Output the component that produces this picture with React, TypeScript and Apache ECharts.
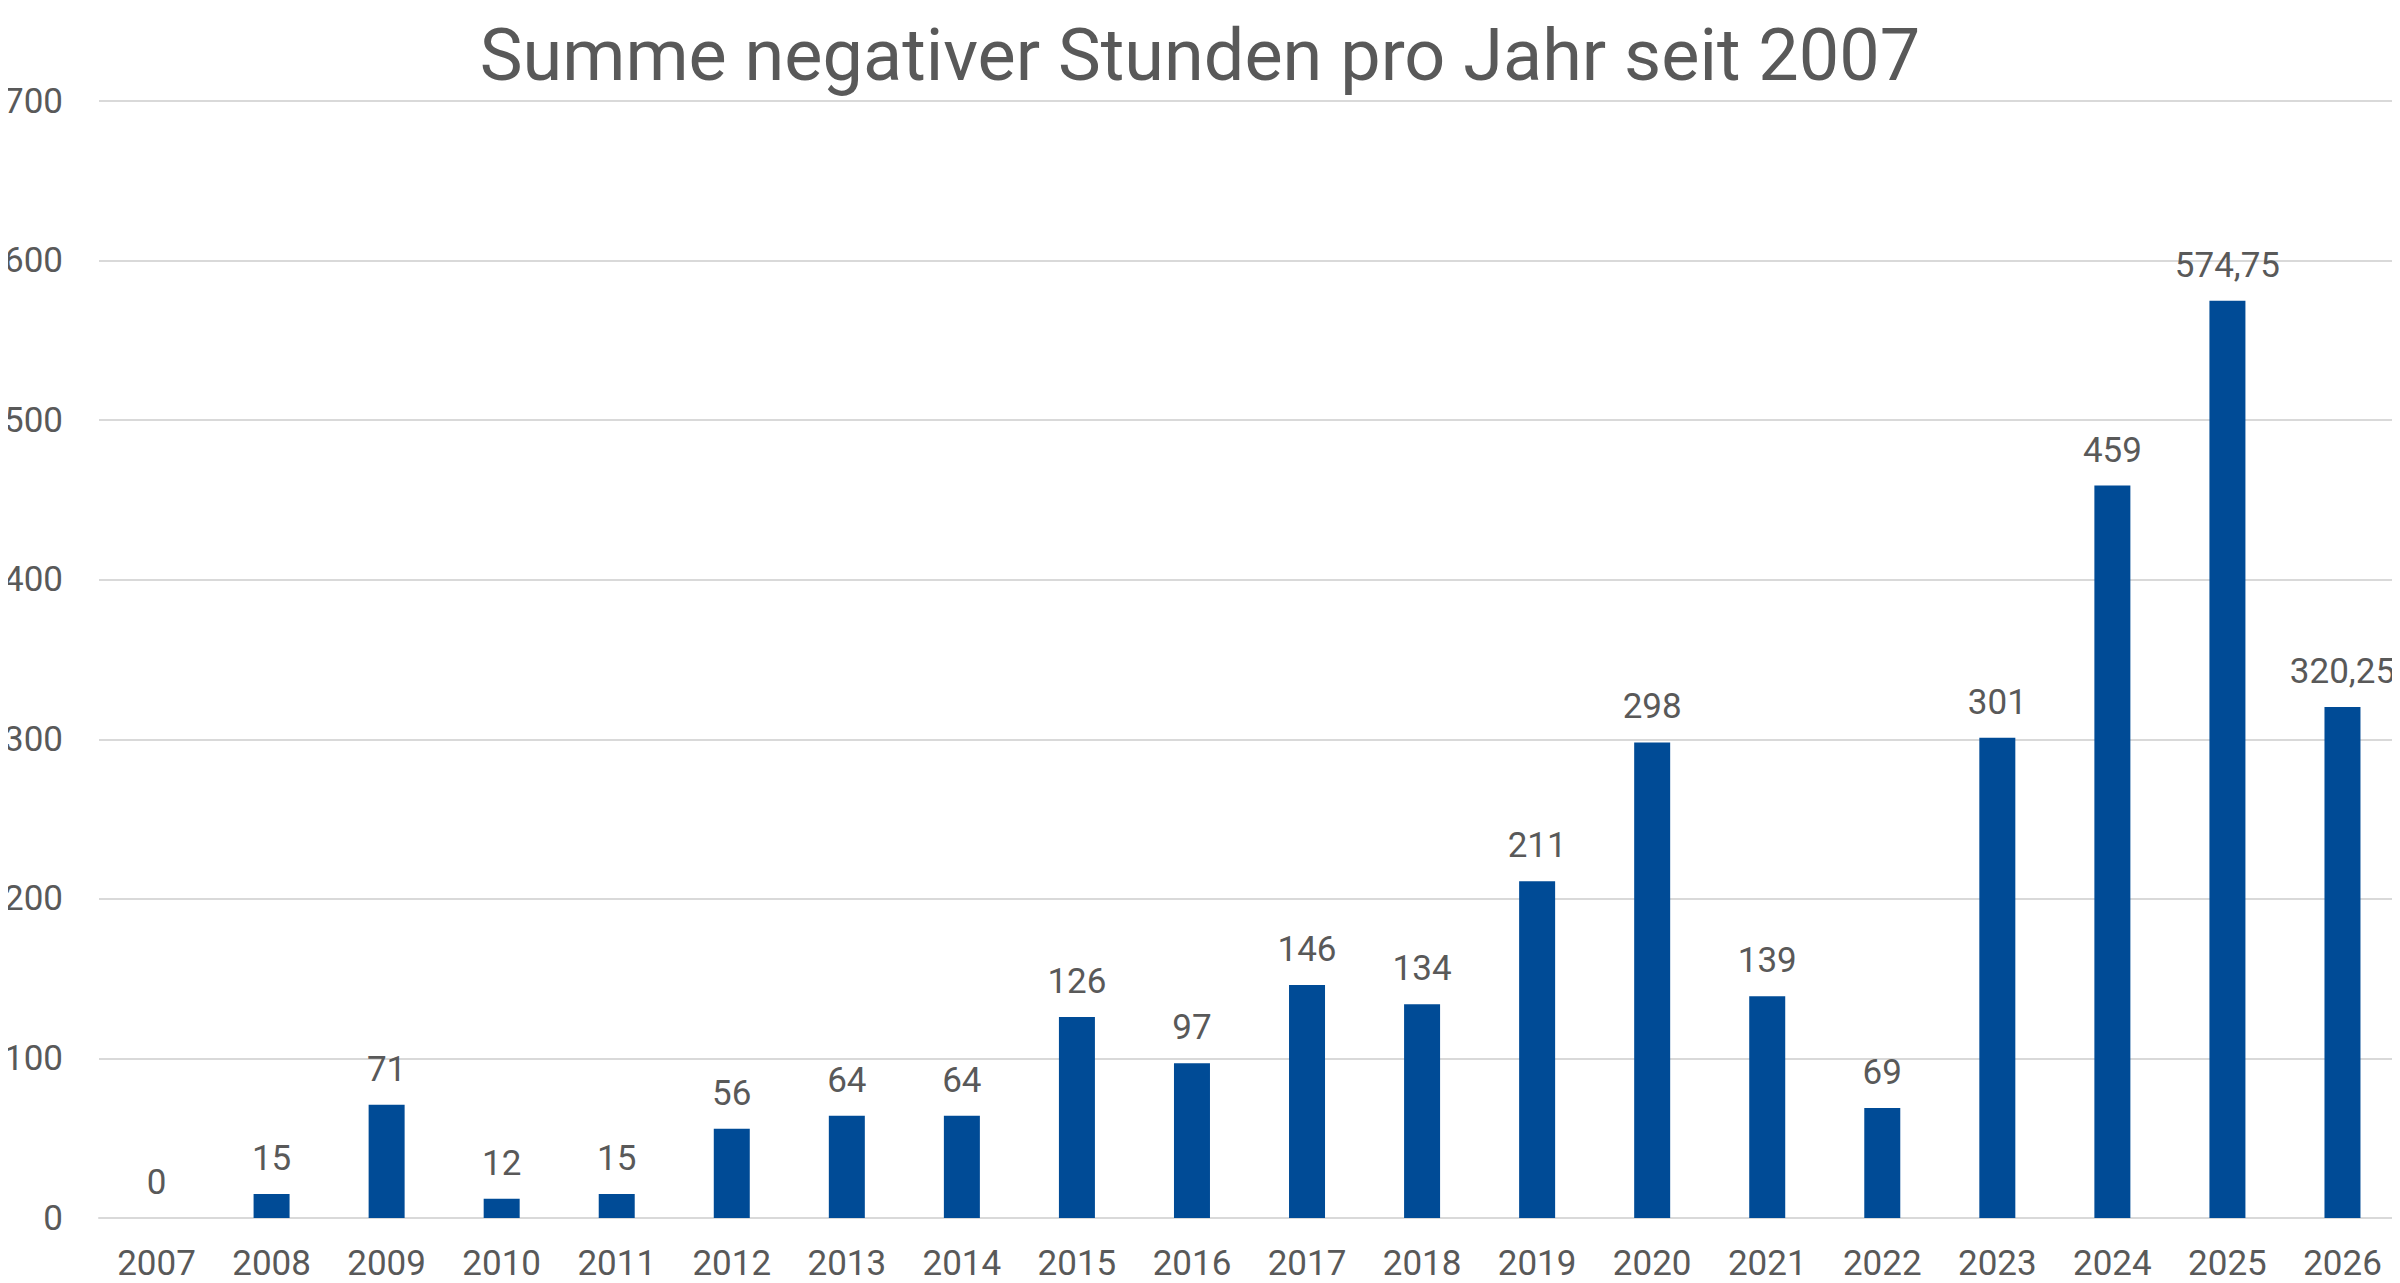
import React, { useEffect, useRef } from "react";
import * as echarts from "echarts";

const TITLE = "Summe negativer Stunden pro Jahr seit 2007";
const years = ["2007","2008","2009","2010","2011","2012","2013","2014","2015","2016","2017","2018","2019","2020","2021","2022","2023","2024","2025","2026"];
const hours = [0,15,71,12,15,56,64,64,126,97,146,134,211,298,139,69,301,459,574.75,320.25];
const yTicks = { min: 0, max: 700, interval: 100 };

const FONT = "Roboto";
const GREY = "#595959";

export default function App() {
  const ref = useRef<HTMLDivElement>(null);
  useEffect(() => {
    const chart = echarts.init(ref.current!, null, { renderer: "svg" });
    chart.setOption({
      animation: false,
      backgroundColor: "#ffffff",
      title: {
        text: TITLE,
        left: "center",
        top: 14,
        textStyle: { fontFamily: FONT, fontSize: 72, fontWeight: "normal", color: GREY },
      },
      grid: { left: 99, right: -9, top: 101, bottom: 65, containLabel: false },
      xAxis: {
        type: "category",
        data: years,
        axisLine: { show: true, lineStyle: { color: "#D9D9D9", width: 2 } },
        axisTick: { show: false },
        axisLabel: { color: GREY, fontFamily: FONT, fontSize: 35, margin: 28, interval: 0 },
      },
      yAxis: {
        type: "value",
        min: yTicks.min,
        max: yTicks.max,
        interval: yTicks.interval,
        axisLine: { show: false },
        axisTick: { show: false },
        splitLine: { lineStyle: { color: "#D9D9D9", width: 2 } },
        axisLabel: { color: GREY, fontFamily: FONT, fontSize: 35, margin: 36 },
      },
      graphic: [
        { type: "line", shape: { x1: 2, y1: 0, x2: 2, y2: 1283 }, style: { stroke: "#D9D9D9", lineWidth: 3 } },
      ],
      series: [
        {
          type: "bar",
          data: hours,
          barWidth: 36,
          itemStyle: { color: "#004B96" },
          label: {
            show: true,
            position: "top",
            distance: 18,
            color: GREY,
            fontFamily: FONT,
            fontSize: 35,
            formatter: (p: any) => String(p.value).replace(".", ","),
          },
        },
      ],
    });
    return () => chart.dispose();
  }, []);
  return <div ref={ref} style={{ width: 2400, height: 1283, margin: -8 }} />;
}
